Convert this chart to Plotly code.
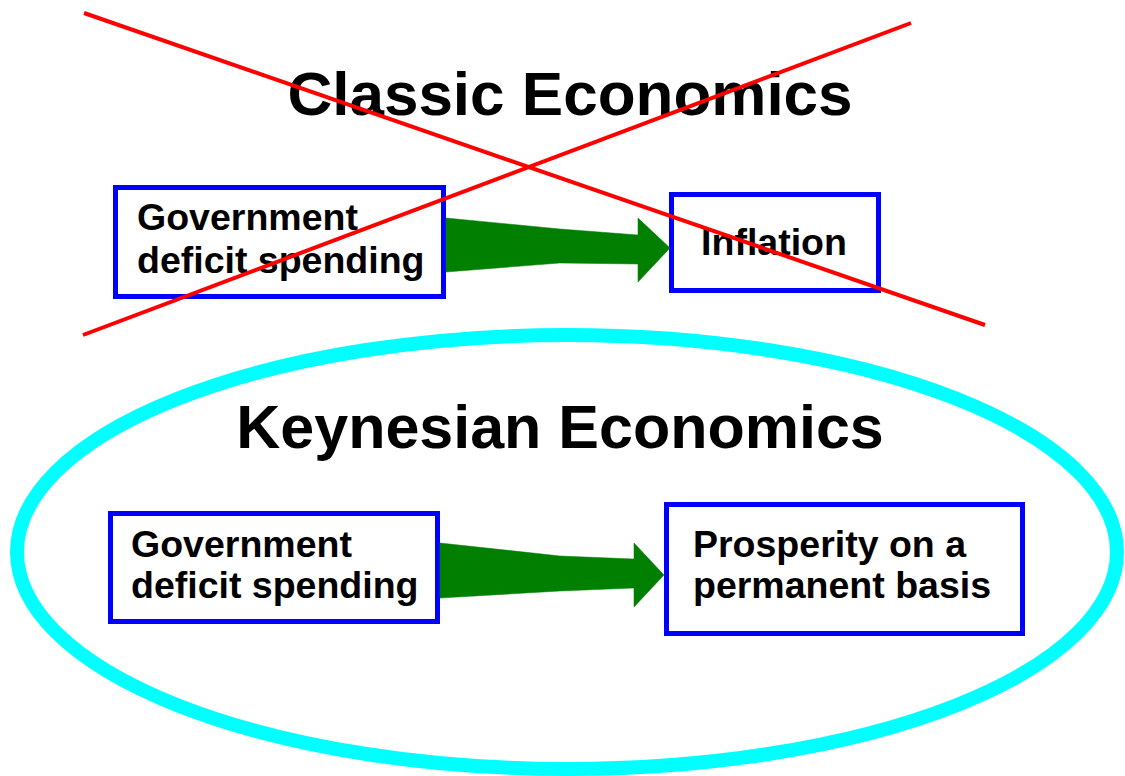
import plotly.graph_objects as go

W, H = 1125, 776

# ---- diagram content (pixel coordinates, y down) ----
title_texts = ["Classic Economics", "Keynesian Economics"]
title_cx = [570, 560]
title_baseline = [115, 448]
title_size = [62, 61]

box_x0 = [115.5, 671.5, 110.5, 666.5]
box_x1 = [443.5, 878.5, 437.5, 1022.5]
box_y0 = [187.5, 194.5, 513.5, 504.5]
box_y1 = [296.5, 290.5, 621.5, 633.5]

label_texts = ["Government", "deficit spending", "Inflation",
               "Government", "deficit spending",
               "Prosperity on a", "permanent basis"]
label_x = [137, 137, 774, 131, 131, 693, 693]
label_baseline = [230, 273, 255, 557, 598, 557, 598]
label_align = ["left", "left", "center", "left", "left", "left", "left"]
label_size = 37.5

# arrows: polygon outlines
arrow1_x = [446, 560, 638, 638, 670, 638, 638, 560, 446]
arrow1_y = [218, 229, 235, 218, 248, 282, 264, 263, 272]
arrow2_x = [440, 560, 634, 634, 664, 634, 634, 560, 440]
arrow2_y = [543, 556, 559, 543, 575, 607, 588, 591, 598]

cross_x0 = [84, 83]
cross_y0 = [13, 335]
cross_x1 = [985, 911]
cross_y1 = [325, 23]

ellipse_x = [17, 1117]
ellipse_y = [335, 769]

FONT = "Liberation Sans, Arial, sans-serif"

fig = go.Figure()

shapes = []
# ellipse
shapes.append(dict(type="circle", xref="x", yref="y",
                   x0=ellipse_x[0], x1=ellipse_x[1], y0=ellipse_y[0], y1=ellipse_y[1],
                   line=dict(color="#00FFFF", width=14), layer="below"))
# boxes
for i in range(len(box_x0)):
    shapes.append(dict(type="rect", xref="x", yref="y",
                       x0=box_x0[i], x1=box_x1[i], y0=box_y0[i], y1=box_y1[i],
                       line=dict(color="#0000FF", width=5), fillcolor="white",
                       layer="below"))
# arrows
for ax, ay in [(arrow1_x, arrow1_y), (arrow2_x, arrow2_y)]:
    path = "M " + " L ".join(f"{x},{y}" for x, y in zip(ax, ay)) + " Z"
    shapes.append(dict(type="path", xref="x", yref="y", path=path,
                       fillcolor="#007F00", line=dict(color="#007F00", width=0.5),
                       layer="below"))
# red cross (on top of everything)
for i in range(len(cross_x0)):
    shapes.append(dict(type="line", xref="x", yref="y",
                       x0=cross_x0[i], y0=cross_y0[i], x1=cross_x1[i], y1=cross_y1[i],
                       line=dict(color="#FF0000", width=4), layer="above"))

# titles
for t, x, b, s in zip(title_texts, title_cx, title_baseline, title_size):
    fig.add_trace(go.Scatter(
        x=[x], y=[b - 0.25 * s], mode="text", text=[t],
        textposition="middle center",
        textfont=dict(family=FONT, size=s, color="black", weight="bold"),
        hoverinfo="skip", showlegend=False))

# labels
for t, x, b, a in zip(label_texts, label_x, label_baseline, label_align):
    fig.add_trace(go.Scatter(
        x=[x], y=[b - 0.25 * label_size], mode="text", text=[t],
        textposition="middle right" if a == "left" else "middle center",
        marker=dict(size=0.001),
        textfont=dict(family=FONT, size=label_size, color="black", weight="bold"),
        hoverinfo="skip", showlegend=False))

fig.update_layout(
    width=W, height=H,
    margin=dict(l=0, r=0, t=0, b=0),
    paper_bgcolor="white", plot_bgcolor="white",
    shapes=shapes,
    xaxis=dict(range=[0, W], visible=False, fixedrange=True),
    yaxis=dict(range=[H, 0], visible=False, fixedrange=True),
    showlegend=False,
)

fig.write_html("out.html", config={"displayModeBar": False},
               post_script="document.body.style.margin='0';document.body.style.overflow='hidden';")
